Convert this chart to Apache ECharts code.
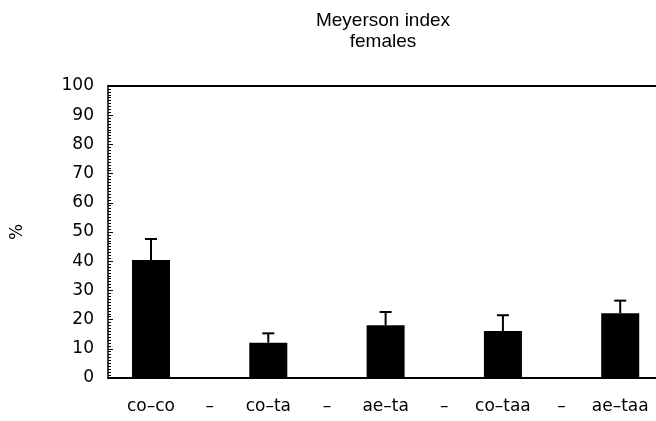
<!DOCTYPE html>
<html>
<head>
<meta charset="utf-8">
<script src="https://cdn.jsdelivr.net/npm/echarts@6/dist/echarts.min.js"></script>
<style>
  html, body { margin: 0; padding: 0; background: #fff; }
  #chart { width: 656px; height: 421px; }
</style>
</head>
<body>
<div id="chart"></div>
<script>
// Meyerson index, females: mean % with upward error bar
const tickLabels = ['co–co', '–', 'co–ta', '–', 'ae–ta', '–', 'co–taa', '–', 'ae–taa'];
const barSlots = [0, 2, 4, 6, 8];
const means = [40.4, 12.1, 18.1, 16.1, 22.2];
const errors = [7.2, 3.2, 4.5, 5.4, 4.3];
const yTicks = [0, 10, 20, 30, 40, 50, 60, 70, 80, 90, 100];

const barData = barSlots.map((x, i) => [x, means[i]]);
const errData = barSlots.map((x, i) => [x, means[i], means[i] + errors[i]]);

const chart = echarts.init(document.getElementById('chart'));

const labelFont = "'DejaVu Sans', Verdana, sans-serif";

chart.setOption({
  backgroundColor: '#fff',
  animation: false,
  title: {
    text: 'Meyerson index\nfemales',
    left: 378,
    top: 5,
    textAlign: 'center',
    textStyle: {
      fontFamily: "'Liberation Sans', Arial, sans-serif",
      fontWeight: 'normal',
      fontSize: 19,
      lineHeight: 21,
      color: '#000'
    }
  },
  grid: { left: 108, right: 0, top: 86, bottom: 43 },
  xAxis: [
    {
      type: 'value',
      min: -0.733,
      max: 8.61,
      axisLine: { show: true, onZero: false, lineStyle: { color: '#000', width: 2 } },
      axisTick: { show: false },
      splitLine: { show: false },
      axisLabel: {
        customValues: tickLabels.map((_, i) => i),
        formatter: v => tickLabels[Math.round(v)] || '',
        color: '#000',
        fontFamily: labelFont,
        fontSize: 17,
        margin: 20
      }
    },
    {
      // верхняя линия рамки на уровне 100
      type: 'value',
      position: 'top',
      min: -0.733,
      max: 8.61,
      axisLine: { show: true, onZero: false, lineStyle: { color: '#000', width: 2 } },
      axisTick: { show: false },
      axisLabel: { show: false },
      splitLine: { show: false }
    }
  ],
  yAxis: {
    type: 'value',
    min: 0,
    max: 100,
    interval: 10,
    name: '%',
    nameLocation: 'middle',
    nameGap: 82,
    nameRotate: 90,
    nameTextStyle: { color: '#000', fontFamily: labelFont, fontSize: 17 },
    axisLine: { show: true, onZero: false, lineStyle: { color: '#000', width: 1.5 } },
    axisTick: { show: true, inside: true, length: 5, lineStyle: { color: '#000' } },
    minorTick: { show: true, splitNumber: 10, length: 3, lineStyle: { color: '#000' } },
    splitLine: { show: false },
    axisLabel: {
      customValues: yTicks,
      color: '#000',
      fontFamily: labelFont,
      fontSize: 17,
      margin: 14
    }
  },
  series: [
    {
      type: 'bar',
      data: barData,
      barWidth: 38,
      itemStyle: { color: '#000' }
    },
    {
      type: 'custom',
      data: errData,
      z: 3,
      renderItem: function (params, api) {
        const base = api.coord([api.value(0), api.value(1)]);
        const top = api.coord([api.value(0), api.value(2)]);
        const half = 6;
        const style = { stroke: '#000', lineWidth: 2 };
        return {
          type: 'group',
          children: [
            { type: 'line', shape: { x1: base[0], y1: base[1], x2: top[0], y2: top[1] }, style: style },
            { type: 'line', shape: { x1: top[0] - half, y1: top[1], x2: top[0] + half, y2: top[1] }, style: style }
          ]
        };
      }
    }
  ]
});
</script>
</body>
</html>
